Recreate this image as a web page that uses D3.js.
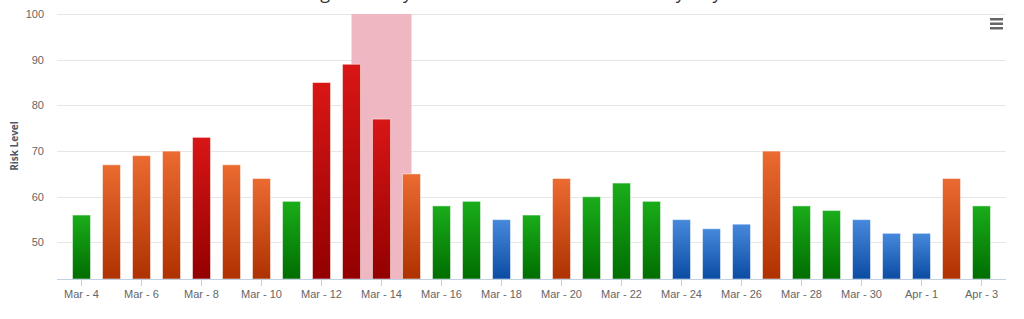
<!DOCTYPE html>
<html>
<head>
<meta charset="utf-8">
<script src="https://cdn.jsdelivr.net/npm/d3@7"></script>
<style>
  body { margin: 0; background: #fff; }
  svg { display: block; font-family: "Open Sans", "DejaVu Sans", sans-serif; }
</style>
</head>
<body>
<script>
// data
const days = ['Mar - 4', 'Mar - 5', 'Mar - 6', 'Mar - 7', 'Mar - 8', 'Mar - 9', 'Mar - 10', 'Mar - 11',
  'Mar - 12', 'Mar - 13', 'Mar - 14', 'Mar - 15', 'Mar - 16', 'Mar - 17', 'Mar - 18', 'Mar - 19',
  'Mar - 20', 'Mar - 21', 'Mar - 22', 'Mar - 23', 'Mar - 24', 'Mar - 25', 'Mar - 26', 'Mar - 27',
  'Mar - 28', 'Mar - 29', 'Mar - 30', 'Mar - 31', 'Apr - 1', 'Apr - 2', 'Apr - 3']
const risk = [56, 67, 69, 70, 73, 67, 64, 59, 85, 89, 77, 65, 58, 59, 55, 56,
  64, 60, 63, 59, 55, 53, 54, 70, 58, 57, 55, 52, 52, 64, 58]
const yTicks = [50, 60, 70, 80, 90, 100]
const bandFrom = 'Mar - 13'
const bandTo = 'Mar - 15'
const chartTitle = 'Highest Daily Risk Level for the Past Month by Day'

const width = 1024
const height = 319
const plotL = 57, plotR = 1006, plotT = 14, plotB = 279

const svg = d3.select('body').append('svg').attr('width', width).attr('height', height)

// colour groups by value
const level = d3.scaleThreshold().domain([55.5, 63.5, 71]).range(['blue', 'green', 'orange', 'red'])
const grads = {
  blue: ['#4689dc', '#0b4ca3'],
  green: ['#1aad1a', '#006d00'],
  orange: ['#eb6b31', '#ae3100'],
  red: ['#d91616', '#930000']
}
const defs = svg.append('defs')
Object.keys(grads).forEach(k => {
  const g = defs.append('linearGradient').attr('id', 'g-' + k)
    .attr('x1', 0).attr('y1', 0).attr('x2', 0).attr('y2', 1)
  g.append('stop').attr('offset', 0).attr('stop-color', grads[k][0])
  g.append('stop').attr('offset', 1).attr('stop-color', grads[k][1])
})

const x = d3.scaleBand().domain(days).range([66.5, 996.5]).paddingInner(0.4).paddingOuter(0.2)
const y = d3.scaleLinear().domain([42, 100]).range([plotB, plotT])
const cx = d => x(d) + x.bandwidth() / 2

// title (sits mostly above the visible area)
svg.append('text').attr('x', width / 2).attr('y', -1).attr('text-anchor', 'middle')
  .attr('font-size', 18).attr('fill', '#333').text(chartTitle)

// grid
svg.append('g').selectAll('line').data(yTicks).enter().append('line')
  .attr('x1', plotL).attr('x2', plotR)
  .attr('y1', d => Math.round(y(d)) + 0.5).attr('y2', d => Math.round(y(d)) + 0.5)
  .attr('stroke', '#e6e6e6')

// plot band
svg.append('rect')
  .attr('x', cx(bandFrom)).attr('y', plotT)
  .attr('width', cx(bandTo) - cx(bandFrom)).attr('height', plotB - plotT)
  .attr('fill', '#efb7c2')

// bars
svg.append('g').selectAll('rect').data(risk).enter().append('rect')
  .attr('x', (d, i) => x(days[i]))
  .attr('y', d => y(d))
  .attr('width', x.bandwidth())
  .attr('height', d => plotB - y(d))
  .attr('fill', d => 'url(#g-' + level(d) + ')')
  .attr('stroke', '#fff').attr('stroke-opacity', 0.5).attr('stroke-width', 1)

// y axis labels
const axisY = d3.axisLeft(y).tickValues(yTicks).tickSize(0).tickPadding(0)
const gy = svg.append('g').attr('transform', 'translate(44,0)').call(axisY)
gy.select('.domain').remove()
gy.selectAll('text').attr('font-size', 11).attr('fill', '#666').attr('font-family', null)

svg.append('text')
  .attr('transform', 'translate(18,146) rotate(-90)')
  .attr('text-anchor', 'middle').attr('font-size', 10).attr('font-weight', 'bold')
  .attr('fill', '#4d5966').text('Risk Level')

// x axis
const axisX = d3.axisBottom(x).tickValues(days.filter((d, i) => i % 2 === 0)).tickSize(7).tickSizeOuter(0).tickPadding(4)
const gx = svg.append('g').attr('transform', `translate(0,${plotB})`).call(axisX)
gx.select('.domain').remove()
gx.selectAll('.tick line').attr('stroke', '#c0d0e0')
gx.selectAll('text').attr('font-size', 11).attr('fill', '#666').attr('font-family', null)
svg.append('line').attr('x1', plotL).attr('x2', plotR).attr('y1', plotB + 0.5).attr('y2', plotB + 0.5)
  .attr('stroke', '#c0d0e0')

// menu button
svg.append('g').selectAll('rect').data([0, 1, 2]).enter().append('rect')
  .attr('x', 990).attr('y', d => 18 + d * 4.5).attr('width', 13).attr('height', 2.5)
  .attr('fill', '#666')
</script>
</body>
</html>
